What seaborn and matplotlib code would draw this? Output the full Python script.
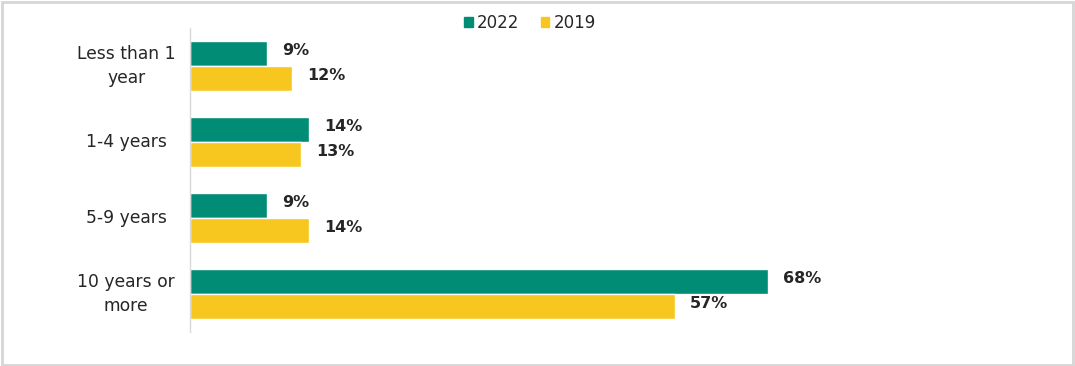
import matplotlib
matplotlib.use("Agg")
import matplotlib.pyplot as plt
from matplotlib.patches import Rectangle
import pandas as pd
import seaborn as sns

categories = ["Less than 1\nyear", "1-4 years", "5-9 years", "10 years or\nmore"]
years = ["2022", "2019"]
values_2022 = [9, 14, 9, 68]
values_2019 = [12, 13, 14, 57]
colors = {"2022": "#008C75", "2019": "#F7C720"}

df = pd.DataFrame({
    "category": categories * 2,
    "year": ["2022"] * len(categories) + ["2019"] * len(categories),
    "value": values_2022 + values_2019,
})

sns.set_theme(style="white")
plt.rcParams["font.family"] = ["DejaVu Sans"]

fig = plt.figure(figsize=(10.75, 3.66), dpi=100)
ax = fig.add_axes([190 / 1075, 34 / 366, 850 / 1075, 304 / 366])

sns.barplot(data=df, y="category", x="value", hue="year", hue_order=years,
            order=categories, palette=colors, width=0.66, orient="h",
            saturation=1, ax=ax, legend=False)

ax.set_xlim(0, 100)
ax.set_ylim(3.5, -0.5)
ax.set_xlabel("")
ax.set_ylabel("")
ax.set_xticks([])
for s in ["top", "right", "bottom"]:
    ax.spines[s].set_visible(False)
ax.spines["left"].set_color("#d9d9d9")
ax.spines["left"].set_linewidth(1.0)
ax.tick_params(axis="y", length=0, labelsize=12.3, labelcolor="#262626")
for lbl in ax.get_yticklabels():
    lbl.set_horizontalalignment("center")
    lbl.set_verticalalignment("center")
    lbl.set_linespacing(1.45)
# center the category labels left of the axis line
ax.tick_params(axis="y", pad=46)

for container in ax.containers:
    anns = ax.bar_label(container, labels=[f"{v:.0f}%" for v in container.datavalues],
                        padding=11, fontsize=11.5, fontweight="bold", color="#262626")
    for a in anns:
        a.xyann = (11, 2)

handles = [Rectangle((0, 0), 1, 1, color=colors[y]) for y in years]
fig.legend(handles, years, loc="center", bbox_to_anchor=(530 / 1075, 1 - 23 / 366),
           ncol=2, frameon=False, fontsize=12, handlelength=0.5, handleheight=0.5,
           handletextpad=0.25, columnspacing=1.3, labelcolor="#262626")

fig.patches.append(Rectangle((0.002, 0.004), 0.996, 0.99, transform=fig.transFigure,
                             fill=False, edgecolor="#d6d6d6", linewidth=2))

fig.savefig("out.png", dpi=100)
